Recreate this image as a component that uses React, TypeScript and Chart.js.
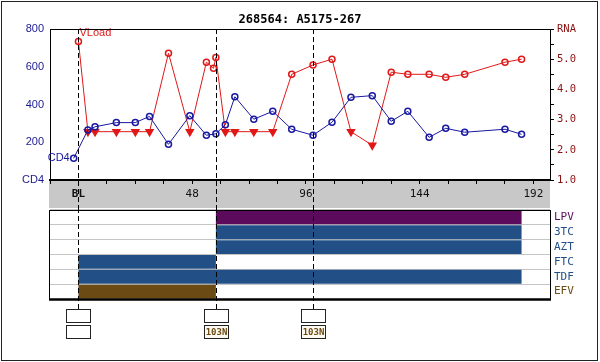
import React, { useEffect, useRef } from "react";
import { Chart, registerables } from "chart.js";

Chart.register(...registerables);

const chartTitle = "268564: A5175-267";

// CD4 series (weeks, cells/mm3)
const cd4Weeks = [-2, 4, 7, 16, 24, 30, 38, 47, 54, 58, 62, 66, 74, 82, 90, 99, 107, 115, 124, 132, 139, 148, 155, 163, 180, 187];
const cd4Values = [115, 265, 282, 304, 304, 337, 189, 341, 237, 245, 293, 441, 322, 364, 269, 237, 306, 438, 447, 311, 364, 226, 274, 253, 269, 242];

// Viral load series (weeks, log10 copies)
const rnaWeeks = [0, 4, 7, 16, 24, 30, 38, 47, 54, 57, 58, 62, 66, 74, 82, 90, 99, 107, 115, 124, 132, 139, 148, 155, 163, 180, 187];
const rnaValues = [5.59, 2.6, 2.6, 2.6, 2.6, 2.6, 5.2, 2.6, 4.9, 4.7, 5.06, 2.6, 2.6, 2.6, 2.6, 4.5, 4.81, 5.0, 2.6, 2.15, 4.57, 4.5, 4.5, 4.4, 4.5, 4.9, 5.0];
const rnaBelowLimit = [false, true, true, true, true, true, false, true, false, false, false, true, true, true, true, false, false, false, true, true, false, false, false, false, false, false, false];

// x axis
const weekMin = -12;
const weekMax = 199;
const weekTickValues = [-12, 0, 12, 24, 36, 48, 60, 72, 84, 96, 108, 120, 132, 144, 156, 168, 180, 192];
const weekLabelValues = [0, 48, 96, 144, 192];
const weekLabelTexts = ["BL", "48", "96", "144", "192"];

// drug table
const drugNames = ["LPV", "3TC", "AZT", "FTC", "TDF", "EFV"];
const drugStart = [58, 58, 58, 0, 0, 0];
const drugEnd = [187, 187, 187, 58, 187, 58];
const drugColors = ["#5c0a5c", "#224f86", "#224f86", "#224f86", "#224f86", "#6b4a14"];

// genotype markers
const genotypeWeeks = [0, 58, 99];
const genotypeTop = ["", "", ""];
const genotypeBottom = ["", "103N", "103N"];

const CD4_COLOR = "#1818a0";
const CD4_TEXT = "#1a1a8e";
const RNA_COLOR = "#e01818";
const RNA_TEXT = "#8b1010";

export default function App() {
  const topRef = useRef<HTMLCanvasElement | null>(null);
  const botRef = useRef<HTMLCanvasElement | null>(null);

  useEffect(() => {
    const topCanvas = topRef.current!;
    const botCanvas = botRef.current!;

    const topPlugin = {
      id: "topDecor",
      beforeDraw(chart: any) {
        const { ctx, chartArea } = chart;
        ctx.save();
        ctx.fillStyle = "#c8c8c8";
        ctx.fillRect(chartArea.left - 1, chartArea.bottom, chartArea.right - chartArea.left + 1, 28);
        ctx.restore();
      },
      afterDatasetsDraw(chart: any) {
        const { ctx } = chart;
        ctx.save();
        ctx.font = "11px 'Liberation Sans'";
        ctx.textBaseline = "middle";
        const p0 = chart.getDatasetMeta(0).data[0];
        ctx.fillStyle = CD4_COLOR;
        ctx.textAlign = "right";
        ctx.fillText("CD4", p0.x - 4, p0.y);
        const p1 = chart.getDatasetMeta(1).data[0];
        ctx.fillStyle = RNA_COLOR;
        ctx.textAlign = "left";
        ctx.fillText("VLoad", p1.x + 1, p1.y - 8);
        ctx.restore();
      },
      afterDraw(chart: any) {
        const { ctx, chartArea } = chart;
        const xs = chart.scales.x;
        ctx.save();
        ctx.strokeStyle = "#000";
        ctx.lineWidth = 1;
        ctx.beginPath();
        ctx.moveTo(chartArea.left, chartArea.top + 0.5);
        ctx.lineTo(chartArea.right, chartArea.top + 0.5);
        ctx.stroke();
        ctx.setLineDash([5, 3]);
        genotypeWeeks.forEach((w) => {
          const x = Math.round(xs.getPixelForValue(w)) + 0.5;
          ctx.beginPath();
          ctx.moveTo(x, chartArea.top);
          ctx.lineTo(x, chart.height);
          ctx.stroke();
        });
        ctx.restore();
      },
    };

    const top = new Chart(topCanvas, {
      type: "line",
      data: {
        datasets: [
          {
            label: "CD4",
            data: cd4Weeks.map((w, i) => ({ x: w, y: cd4Values[i] })),
            yAxisID: "y",
            borderColor: CD4_COLOR,
            borderWidth: 1,
            pointStyle: "circle",
            pointRadius: 3,
            pointBorderWidth: 1.5,
            pointBorderColor: CD4_COLOR,
            pointBackgroundColor: "rgba(0,0,0,0)",
            tension: 0,
          },
          {
            label: "RNA",
            data: rnaWeeks.map((w, i) => ({ x: w, y: rnaValues[i] })),
            yAxisID: "y1",
            borderColor: RNA_COLOR,
            borderWidth: 1,
            pointStyle: (c: any) => (rnaBelowLimit[c.dataIndex] ? "triangle" : "circle"),
            rotation: (c: any) => (rnaBelowLimit[c.dataIndex] ? 180 : 0),
            pointRadius: (c: any) => (rnaBelowLimit[c.dataIndex] ? 4 : 3),
            pointBorderWidth: 1.5,
            pointBorderColor: RNA_COLOR,
            pointBackgroundColor: (c: any) => (rnaBelowLimit[c.dataIndex] ? RNA_COLOR : "rgba(0,0,0,0)"),
            tension: 0,
          },
        ],
      },
      options: {
        responsive: false,
        animation: false,
        layout: { padding: 0 },
        plugins: {
          legend: { display: false },
          tooltip: { enabled: false },
          title: {
            display: true,
            text: chartTitle,
            color: "#000",
            font: { family: "'DejaVu Sans Mono'", size: 12, weight: "bold", lineHeight: 1 },
            padding: { top: 14, bottom: 3 },
          },
        },
        scales: {
          x: {
            type: "linear",
            min: weekMin,
            max: weekMax,
            afterBuildTicks: (s: any) => {
              s.ticks = weekTickValues.map((v) => ({ value: v }));
            },
            afterFit: (s: any) => {
              s.height = 30;
            },
            grid: { drawOnChartArea: false, drawTicks: true, tickLength: 4, color: "#000" },
            border: { display: true, color: "#000", width: 2 },
            ticks: {
              autoSkip: false,
              maxRotation: 0,
              padding: 4,
              color: "#111",
              font: (c: any) => ({
                family: "'DejaVu Sans Mono'",
                size: 11,
                weight: c.tick && c.tick.value === 0 ? "bold" : "normal",
              }),
              callback: (v: any) => {
                const i = weekLabelValues.indexOf(Number(v));
                return i >= 0 ? weekLabelTexts[i] : "";
              },
            },
          },
          y: {
            type: "linear",
            position: "left",
            min: 0,
            max: 800,
            afterFit: (s: any) => {
              s.width = 50;
            },
            grid: { display: true, drawOnChartArea: false, drawTicks: false },
            border: { display: true, color: "#000", width: 1 },
            ticks: {
              stepSize: 200,
              padding: 6,
              color: CD4_TEXT,
              font: { family: "'Liberation Sans'", size: 11 },
              callback: (v: any) => (Number(v) === 0 ? "CD4" : String(v)),
            },
          },
          y1: {
            type: "linear",
            position: "right",
            min: 1,
            max: 6,
            afterFit: (s: any) => {
              s.width = 50;
            },
            grid: { drawOnChartArea: false, drawTicks: true, tickLength: 4, color: "#000" },
            border: { display: true, color: "#000", width: 1 },
            ticks: {
              stepSize: 0.5,
              autoSkip: false,
              padding: 3,
              color: RNA_TEXT,
              font: { family: "'DejaVu Sans Mono'", size: 10.5 },
              callback: (v: any) => {
                const n = Number(v);
                if (Math.abs(n - 6) < 1e-9) return "RNA";
                return Math.abs(n - Math.round(n)) < 1e-9 ? n.toFixed(1) : "";
              },
            },
          },
        },
      },
      plugins: [topPlugin],
    } as any);

    const botPlugin = {
      id: "tableDecor",
      afterDatasetsDraw(chart: any) {
        const { ctx, chartArea } = chart;
        ctx.save();
        ctx.strokeStyle = "#000";
        ctx.lineWidth = 1;
        ctx.beginPath();
        ctx.moveTo(chartArea.left - 0.5, chartArea.top + 0.5);
        ctx.lineTo(chartArea.right + 0.5, chartArea.top + 0.5);
        ctx.moveTo(chartArea.left - 0.5, chartArea.top);
        ctx.lineTo(chartArea.left - 0.5, chartArea.bottom);
        ctx.moveTo(chartArea.right + 0.5, chartArea.top);
        ctx.lineTo(chartArea.right + 0.5, chartArea.bottom);
        ctx.stroke();
        ctx.lineWidth = 2.5;
        ctx.beginPath();
        ctx.moveTo(chartArea.left - 1, chartArea.bottom + 0.5);
        ctx.lineTo(chartArea.right + 1, chartArea.bottom + 0.5);
        ctx.stroke();
        ctx.restore();
      },
      afterDraw(chart: any) {
        const { ctx, chartArea } = chart;
        const xs = chart.scales.x;
        ctx.save();
        ctx.strokeStyle = "#000";
        ctx.lineWidth = 1;
        ctx.setLineDash([5, 3]);
        const boxTop = chartArea.bottom + 10;
        genotypeWeeks.forEach((w) => {
          const x = Math.round(xs.getPixelForValue(w)) + 0.5;
          ctx.beginPath();
          ctx.moveTo(x, 0);
          ctx.lineTo(x, boxTop);
          ctx.stroke();
        });
        ctx.setLineDash([]);
        ctx.font = "bold 9px 'DejaVu Sans Mono'";
        ctx.textAlign = "center";
        ctx.textBaseline = "middle";
        genotypeWeeks.forEach((w, i) => {
          const cx = Math.round(xs.getPixelForValue(w));
          const left = cx - 12 + 0.5;
          ctx.strokeStyle = "#222";
          ctx.fillStyle = "#ffffff";
          ctx.fillRect(left, boxTop + 0.5, 24, 13);
          ctx.strokeRect(left, boxTop + 0.5, 24, 13);
          if (genotypeTop[i]) {
            ctx.fillStyle = "#6b4a14";
            ctx.fillText(genotypeTop[i], cx + 0.5, boxTop + 7);
          }
          ctx.fillStyle = genotypeBottom[i] ? "#fffaf0" : "#ffffff";
          ctx.fillRect(left, boxTop + 16.5, 24, 13);
          ctx.strokeRect(left, boxTop + 16.5, 24, 13);
          if (genotypeBottom[i]) {
            ctx.fillStyle = "#6b4a14";
            ctx.fillText(genotypeBottom[i], cx + 0.5, boxTop + 23.5);
          }
        });
        ctx.restore();
      },
    };

    const bot = new Chart(botCanvas, {
      type: "bar",
      data: {
        labels: drugNames,
        datasets: [
          {
            label: "Drugs",
            data: drugNames.map((_, i) => [drugStart[i], drugEnd[i]]),
            backgroundColor: drugColors,
            borderWidth: 0,
            barPercentage: 0.93,
            categoryPercentage: 1,
          },
        ],
      },
      options: {
        indexAxis: "y",
        responsive: false,
        animation: false,
        layout: { padding: { left: 50, top: 2, bottom: 63, right: 0 } },
        plugins: { legend: { display: false }, tooltip: { enabled: false }, title: { display: false } },
        scales: {
          x: { type: "linear", min: weekMin, max: weekMax, display: false },
          y: {
            type: "category",
            position: "right",
            afterFit: (s: any) => {
              s.width = 50;
              s.paddingTop = 0;
              s.paddingBottom = 0;
            },
            grid: { display: true, drawTicks: false, color: "#c4c4c4", offset: true },
            border: { display: false },
            ticks: {
              autoSkip: false,
              padding: 4,
              color: (c: any) => drugColors[c.index] || "#000",
              font: { family: "'DejaVu Sans Mono'", size: 11 },
            },
          },
        },
      },
      plugins: [botPlugin],
    } as any);

    return () => {
      top.destroy();
      bot.destroy();
    };
  }, []);

  return (
    <div style={{ position: "fixed", left: 0, top: 0, width: 600, height: 362, background: "#fff", overflow: "hidden" }}>
      <div
        style={{
          position: "absolute",
          left: 1,
          top: 1,
          width: 597,
          height: 360,
          boxSizing: "border-box",
          border: "1px solid #222",
        }}
      />
      <canvas ref={topRef} width={600} height={210} style={{ position: "absolute", left: 0, top: 0, width: 600, height: 210 }} />
      <canvas ref={botRef} width={600} height={154} style={{ position: "absolute", left: 0, top: 208, width: 600, height: 154 }} />
    </div>
  );
}
